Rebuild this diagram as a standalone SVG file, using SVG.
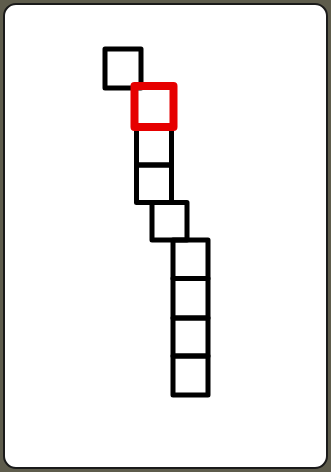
<svg xmlns="http://www.w3.org/2000/svg" width="331" height="472" viewBox="0 0 331 472">
  <style>
    .sq { fill: none; stroke: #000; stroke-width: 5; stroke-linejoin: round; }
    .sel { fill: none; stroke: #e60000; stroke-width: 8; stroke-linejoin: round; }
  </style>
  <rect x="0" y="0" width="331" height="472" fill="#5e5c4c"/>
  <rect id="card" x="4" y="4" width="323" height="464" rx="12" fill="#ffffff" stroke="#1a1a1a" stroke-width="2"/>
  <g id="connectors"/>
  <g id="sq1"><rect class="sq" x="105" y="49" width="36" height="39"/></g>
  <g id="sq3"><rect class="sq" x="136.5" y="127" width="35" height="38"/></g>
  <g id="sq4"><rect class="sq" x="136.5" y="165" width="35" height="37.5"/></g>
  <g id="sq5"><rect class="sq" x="152" y="202.5" width="35" height="37.5"/></g>
  <g id="sq6"><rect class="sq" x="173" y="240" width="35" height="38.5"/></g>
  <g id="sq7"><rect class="sq" x="173" y="278.5" width="35" height="39.5"/></g>
  <g id="sq8"><rect class="sq" x="173" y="318" width="35" height="38"/></g>
  <g id="sq9"><rect class="sq" x="173" y="356" width="35" height="39"/></g>
  <g id="sq2"><rect class="sel" x="134.5" y="86" width="39" height="41"/></g>
</svg>
